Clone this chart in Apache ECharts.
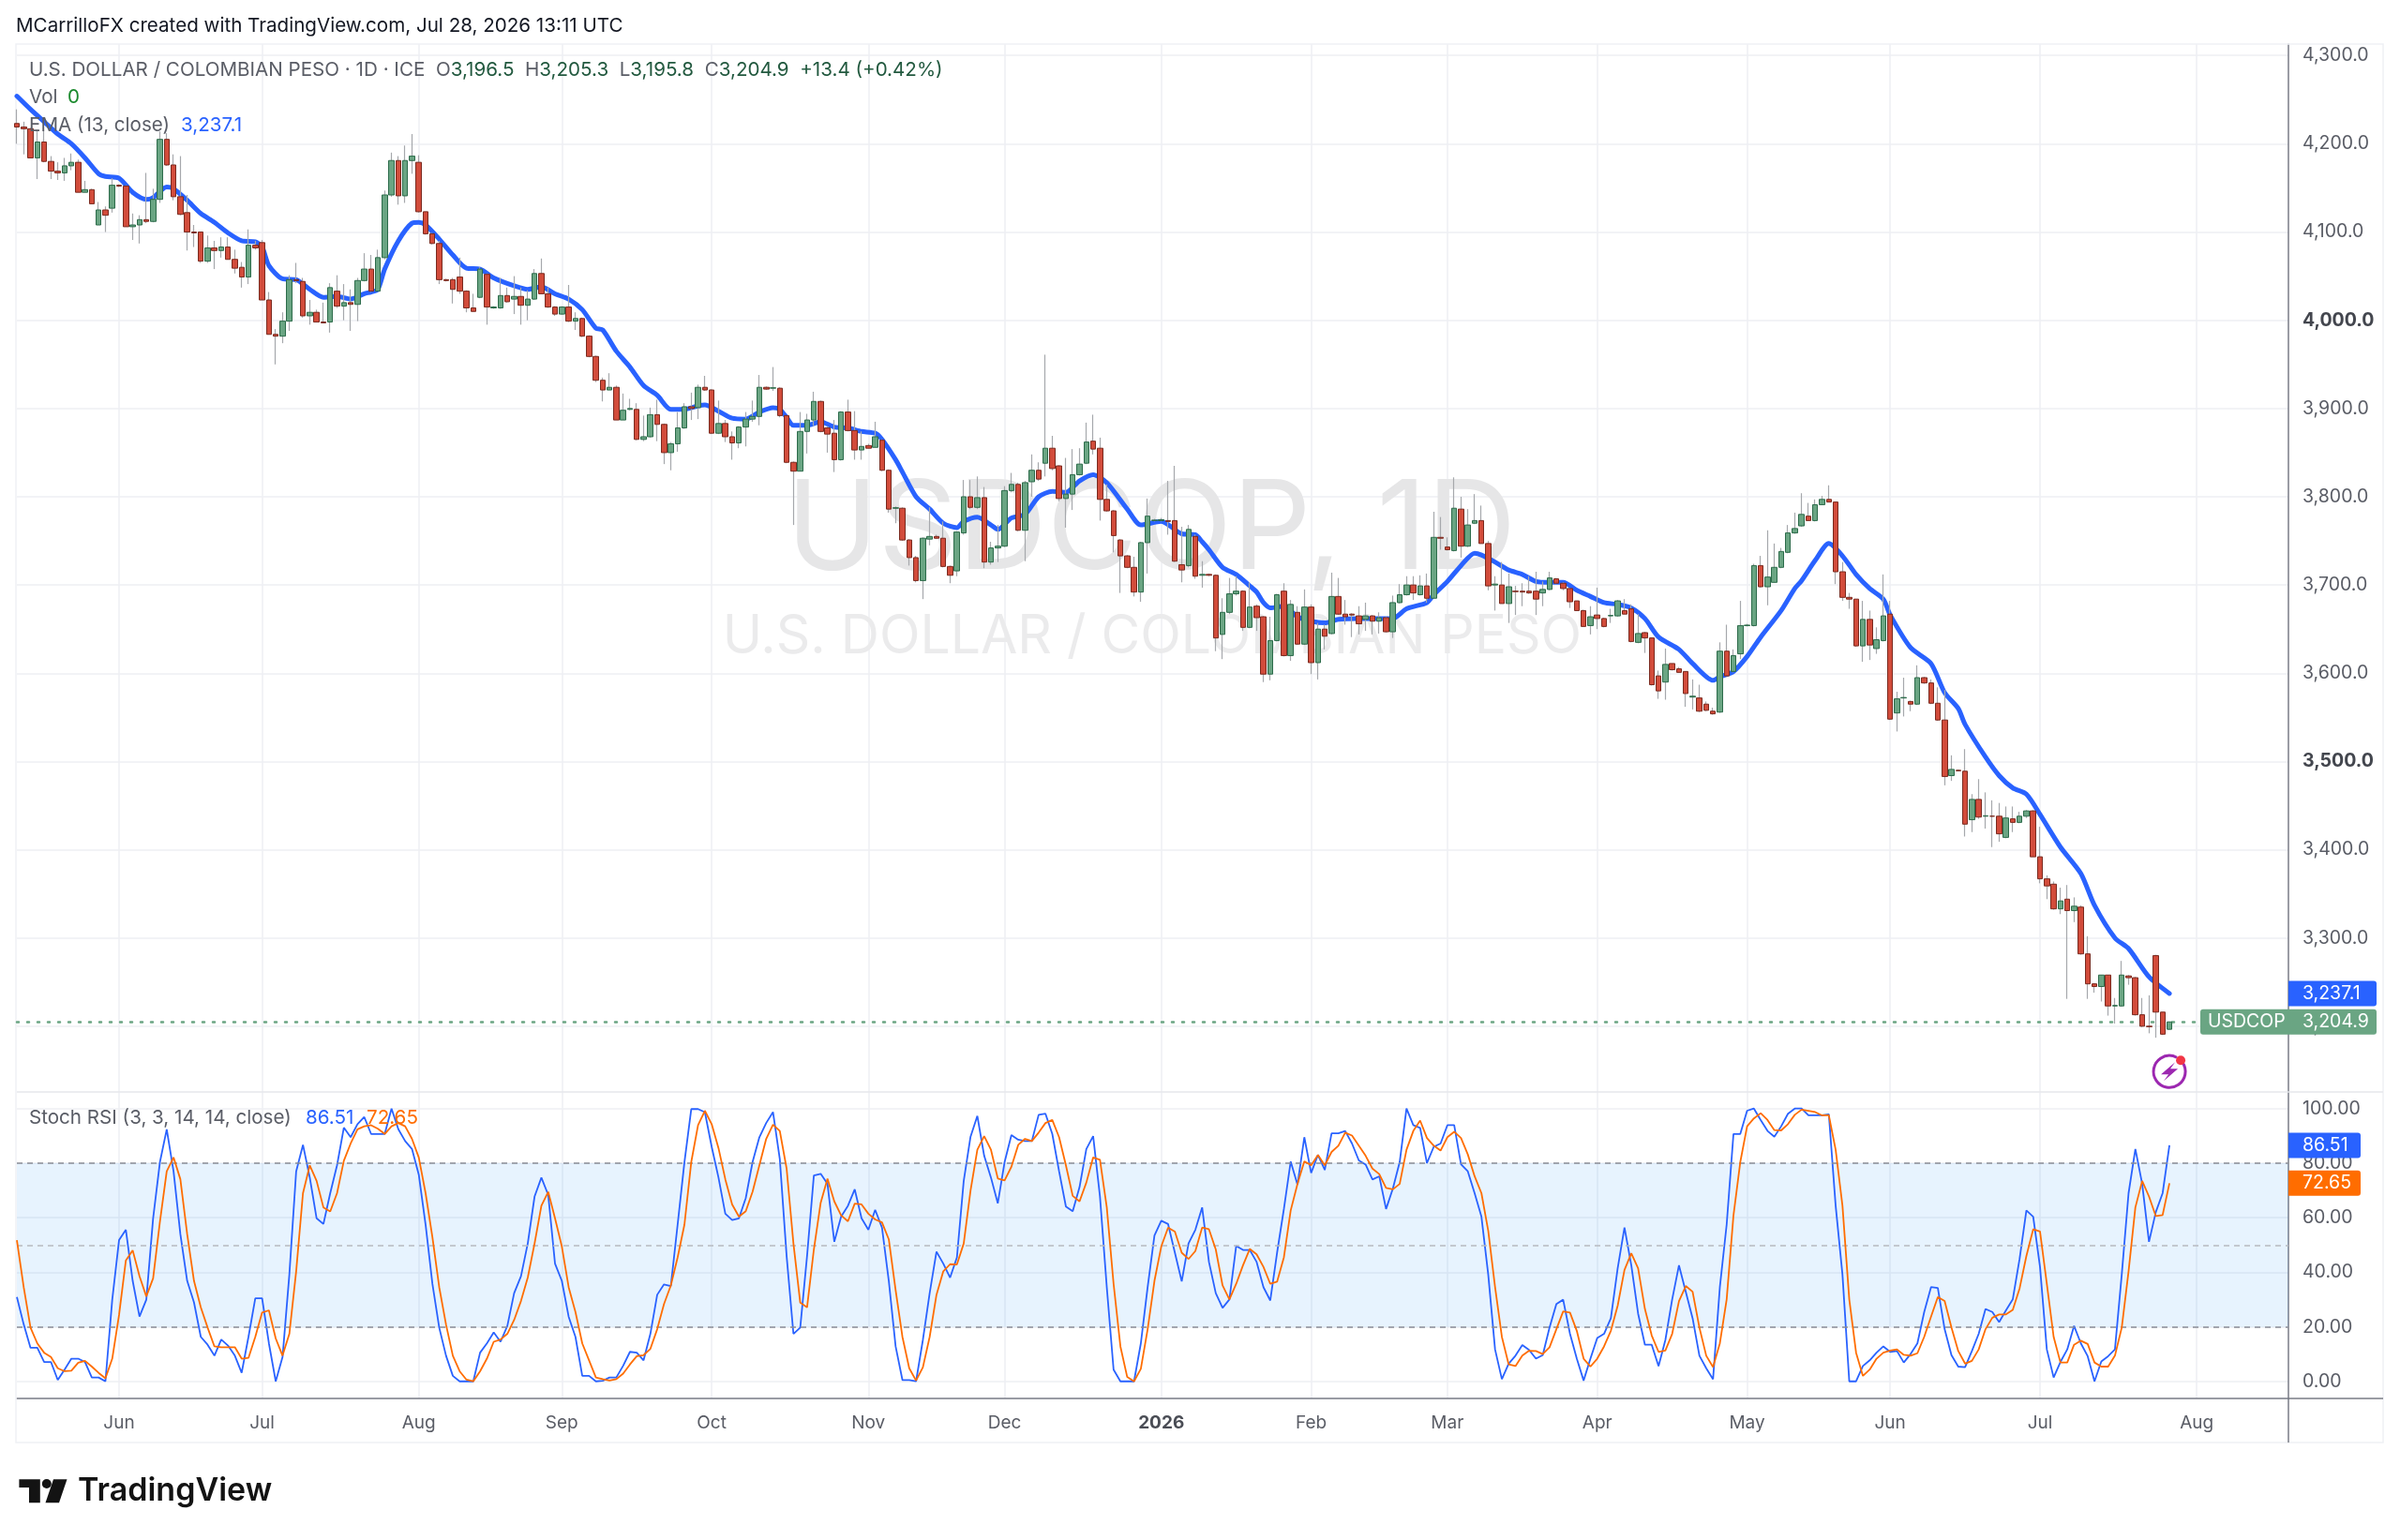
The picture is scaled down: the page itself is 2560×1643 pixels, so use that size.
<!DOCTYPE html>
<html>
<head>
<meta charset="utf-8">
<title>USDCOP 1D</title>
<style>html,body{margin:0;padding:0;background:#fff}#chart{width:2560px;height:1643px}</style>
<script src="https://cdn.jsdelivr.net/npm/echarts@6/dist/echarts.min.js"></script>
</head>
<body>
<div id="chart"></div>
<script>
// Daily session calendar: every weekday from firstSession; bars past the last close stay empty
const firstSession = '2025-05-12';
const barCount = 334;
const visibleBars = 333.47;

// Month starts on the time axis
const monthDates = ['2025-06-02','2025-07-01','2025-08-01','2025-09-01','2025-10-01','2025-11-03','2025-12-01','2026-01-01','2026-02-02','2026-03-02','2026-04-01','2026-05-01','2026-06-01','2026-07-01','2026-08-03'];
const monthLabels = ['Jun','Jul','Aug','Sep','Oct','Nov','Dec','2026','Feb','Mar','Apr','May','Jun','Jul','Aug'];
const boldMonthLabels = ['2026'];
const priceTicks = [3200,3300,3400,3500,3600,3700,3800,3900,4000,4100,4200,4300];
const boldPriceTicks = [4000, 3500];
const stochTicks = [0,20,40,60,80,100];

// USD/COP daily candles
const opens = [
4223,4219,4217,4184,4202,4180,4169,4167,4175,4179,
4145,4148,4108,4125,4127,4153,4152,4106,4108,4114,
4112,4137,4205,4176,4140,4122,4100,4100,4067,4082,
4079,4083,4069,4060,4049,4085,4088,4023,3984,3982,
3999,4046,4044,4005,4009,3998,3998,4033,4016,4020,
4018,4045,4058,4033,4071,4142,4181,4141,4181,4179,
4123,4098,4087,4046,4046,4049,4033,4014,4026,4052,
4014,4014,4028,4024,4027,4017,4024,4053,4030,4015,
4007,4015,3999,4002,3982,3959,3932,3921,3924,3887,
3899,3899,3865,3868,3893,3882,3850,3860,3878,3902,
3901,3924,3921,3872,3883,3868,3861,3879,3888,3891,
3924,3923,3923,3892,3839,3829,3874,3887,3908,3878,
3872,3842,3896,3875,3853,3858,3856,3864,3830,3787,
3787,3751,3731,3705,3752,3755,3753,3721,3716,3759,
3800,3788,3799,3726,3742,3744,3807,3814,3762,3817,
3830,3838,3855,3835,3798,3803,3825,3838,3863,3855,
3797,3784,3751,3733,3720,3692,3748,3773,3773,3773,
3773,3723,3722,3755,3711,3712,3711,3644,3669,3690,
3693,3652,3676,3664,3599,3637,3693,3620,3669,3633,
3675,3612,3650,3645,3687,3667,3667,3665,3661,3665,
3659,3663,3647,3680,3689,3700,3689,3699,3685,3754,
3743,3739,3786,3744,3770,3773,3747,3700,3700,3679,
3693,3693,3693,3693,3691,3695,3707,3702,3696,3682,
3671,3654,3666,3662,3665,3665,3671,3673,3635,3646,
3640,3597,3590,3611,3605,3602,3573,3572,3565,3557,
3556,3625,3602,3622,3654,3654,3722,3698,3703,3720,
3737,3759,3767,3778,3773,3791,3797,3794,3715,3686,
3684,3631,3661,3628,3637,3667,3555,3572,3568,3565,
3595,3589,3566,3547,3484,3490,3489,3434,3457,3438,
3438,3438,3414,3435,3431,3438,3444,3392,3367,3361,
3333,3344,3331,3335,3282,3248,3245,3258,3223,3223,
3257,3255,3213,3200,3280,3216,3196.5];
const closes = [
4219,4217,4184,4202,4180,4169,4167,4175,4179,4145,
4148,4132,4125,4119,4153,4152,4106,4108,4114,4112,
4137,4205,4176,4140,4120,4100,4099,4067,4082,4079,
4083,4069,4059,4049,4085,4082,4023,3984,3982,3999,
4046,4045,4005,4009,3998,3997,4037,4016,4020,4018,
4045,4058,4033,4071,4142,4181,4141,4181,4186,4123,
4098,4087,4046,4045,4035,4033,4014,4010,4058,4015,
4015,4028,4021,4027,4017,4024,4053,4030,4015,4007,
4015,3999,4002,3982,3959,3932,3921,3924,3887,3898,
3900,3865,3868,3893,3882,3850,3860,3878,3902,3900,
3924,3921,3872,3883,3868,3861,3879,3888,3891,3924,
3922,3923.5,3892,3839,3829,3874,3887,3908,3874,3871,
3842,3896,3875,3853,3857,3855,3868,3830,3786,3787.5,
3751,3731,3705,3753,3755,3753,3721,3711,3760,3800,
3788,3799,3726,3742,3744,3807,3814,3762,3816,3830,
3820,3855,3832,3798,3803,3825,3837,3862,3854,3797,
3784,3756,3733,3720,3692,3748,3778,3773.5,3774,3772,
3727,3717,3763,3710,3712,3711,3640,3669,3690,3693,
3652,3675,3663,3599,3637,3689,3620,3678,3633,3675,
3612,3650,3642,3687,3667,3664,3666,3656,3665,3659,
3663,3647,3680,3689,3700,3691,3699,3685,3754,3753,
3740,3787,3744,3768,3773,3747,3699,3701,3679,3698,
3692.5,3692,3691,3684,3695,3708,3702,3696,3681,3671,
3653,3664,3662,3653,3665.5,3682,3667,3636,3645,3640,
3587,3580,3610,3604,3601,3577,3574,3557,3558,3554,
3625,3597,3620,3654,3654.5,3722,3698,3709,3720,3738,
3759,3764,3780,3773,3791,3797,3794,3715,3686,3684,
3631,3661,3632,3638,3665,3548,3571,3572.5,3565,3595,
3589,3566,3547,3483,3491,3489.5,3429,3457,3437,3438.5,
3438,3418,3436,3431,3438,3444,3392,3367,3359,3333,
3342,3331,3336,3282,3248,3245,3258,3223,3223.5,3258,
3255,3213,3200,3199.5,3216,3191,3204.9];
const lows = [
4200,4188,4184,4160,4179,4160,4159,4158,4170,4145,
4145,4132,4108,4100,4122,4151,4106,4091,4087,4110,
4111,4133,4175,4136,4119,4079,4083,4065,4065,4058,
4071,4069,4053,4037,4041,4080,4023,3984,3950,3974,
3988,4042,4003,3995,3998,3997,3986,4014,4000,3988,
3999,4044,4032,4033,4069,4140,4131,4133,4166,4122,
4097,4086,4041,4044,4019,4030,4009,4010,4025,3995,
4013,4013,4020,4007,3995,4000,4023,4030,4014,4005,
4006,3998,3989,3981,3958,3930,3908,3921,3887,3887,
3898,3864,3863,3867,3863,3837,3830,3851,3877,3887,
3888,3920,3871,3871,3862,3842,3855,3857,3885,3881,
3921,3920,3890,3838,3768,3829,3849,3880,3873,3850,
3828,3841,3874,3842,3842,3855,3856,3829,3782,3770,
3750,3722,3703,3684,3745,3752,3720,3702,3710,3757,
3786,3786,3719,3723,3726,3743,3805,3761,3727,3800,
3818,3823,3830,3795,3765,3785,3824,3837,3848,3773,
3783,3737,3691,3719,3687,3681,3713,3772,3772,3757,
3726,3703,3720,3707,3697,3710,3625,3616,3667,3688,
3648,3651,3648,3590,3592,3636,3619,3614,3632,3632,
3599,3593,3627,3644,3666,3655,3641,3644,3648,3644,
3645,3646,3640,3679,3688,3683,3688,3680,3685,3740,
3739,3738,3731,3743,3769,3747,3694,3671,3679,3657,
3666,3676,3690,3666,3676,3694,3701,3694,3674,3671,
3653,3644,3650,3652,3657,3664,3667,3635,3634,3623,
3586,3571,3570,3603,3601,3562,3559,3556,3557,3553,
3555,3597,3601,3616,3653,3653,3697,3677,3703,3719,
3736,3758,3766,3773,3772,3791,3794,3701,3682,3673,
3630,3613,3615,3622,3636,3547,3534,3551,3557,3564,
3588,3565,3546,3473,3478,3489,3415,3420,3435,3424,
3403,3409,3413,3420,3430,3436,3392,3362,3344,3332,
3327,3231,3318,3281,3231,3238,3228,3212,3203,3222,
3247,3212,3199,3192,3187,3190,3195.8];
const highs = [
4239,4225,4218,4216,4216,4186,4179,4184,4189,4182,
4158,4149,4134,4129,4161,4154,4153,4121,4119,4167,
4149,4214,4212,4188,4186,4142,4108,4100,4096,4090,
4094,4094,4080,4066,4103,4090,4091,4032,3990,4009,
4051,4065,4048,4023,4012,4020,4042,4051,4041,4035,
4048,4076,4074,4080,4147,4190,4186,4198,4211,4187,
4123,4099,4090,4047,4048,4071,4034,4030,4060,4053,
4016,4048,4037,4050,4037,4034,4058,4070,4037,4016,
4016,4040,4009,4003,3983,3960,3935,3940,3926,3917,
3911,3906,3892,3901,3910,3883,3862,3896,3906,3918,
3927,3937,3922,3909,3887,3874,3880,3896,3909,3938,
3925,3947,3924,3892,3840,3896,3894,3919,3909,3880,
3887,3897,3910,3897,3874,3860,3885,3865,3831,3789,
3788,3752,3733,3754,3788,3757,3772,3722,3761,3819,
3819,3823,3811,3749,3768,3812,3827,3816,3818,3848,
3839,3961,3869,3836,3844,3854,3855,3884,3893,3867,
3814,3785,3752,3734,3732,3749,3798,3775,3776,3818,
3835,3766,3768,3757,3727,3713,3712,3685,3708,3710,
3694,3703,3678,3665,3664,3690,3702,3683,3676,3695,
3678,3657,3655,3714,3708,3683,3668,3676,3680,3666,
3669,3664,3688,3701,3710,3710,3711,3713,3783,3777,
3754,3822,3800,3786,3803,3790,3750,3710,3726,3713,
3699,3702,3710,3715,3704,3715,3708,3703,3696,3682,
3672,3676,3697,3663,3673,3683,3684,3678,3667,3647,
3640,3603,3628,3611,3607,3602,3593,3587,3568,3561,
3635,3655,3627,3682,3656,3724,3733,3762,3747,3742,
3768,3782,3804,3793,3797,3801,3813,3794,3726,3691,
3684,3682,3671,3652,3712,3682,3579,3595,3569,3609,
3596,3593,3584,3581,3507,3491,3514,3463,3480,3465,
3456,3453,3449,3449,3443,3445,3445,3426,3371,3364,
3357,3360,3346,3337,3302,3249,3258,3258,3232,3274,
3258,3256,3232,3235,3281,3216,3205.3];

// EMA 13 overlay, bar index and level
const emaBars = [0,2,4,6,8,10,12,13,15,17,19,20,22,23,25,27,29,31,33,35,36,37,39,41,43,45,47,49,51,52,53,54,56,58,59,60,62,64,66,68,70,73,75,77,79,81,83,85,
86,88,90,92,94,96,98,100,101,103,105,107,109,111,112,113,114,116,118,120,122,124,126,127,129,130,132,134,136,138,139,141,143,144,146,148,150,152,154,156,158,160,163,165,168,171,173,
174,175,177,179,181,182,183,184,186,188,190,192,194,197,200,202,204,207,208,210,212,214,215,217,219,221,223,225,227,229,231,233,235,237,239,241,244,246,249,250,252,254,256,259,261,
262,264,266,268,270,272,274,275,278,281,283,285,286,289,291,293,295,297,300,303,305,308,310,313,316];
const emaValues = [4254,4239,4225,4211,4200,4184,4166,4163,4161,4145,4137,4139,4151,4149,4136,4121,4111,4099,4090,4089,4083,4062,4047,4046,4035,4026,4027,4024,4030,4032,4035,4058,4090,4110,4111,4108,4092,4074,4059,4058,4048,4039,4035,4038,4030,4024,4012,3991,
3989,3965,3947,3926,3915,3899,3899,3903,3904,3897,3889,3888,3896,3901,3899,3890,3881,3881,3885,3879,3878,3874,3872,3865,3842,3828,3800,3786,3770,3765,3772,3777,3768,3763,3776,3780,3800,3806,3805,3818,3825,3816,3786,3768,3772,3758,3757,
3749,3740,3720,3712,3699,3692,3680,3674,3676,3664,3659,3657,3661,3662,3662,3662,3673,3680,3689,3704,3722,3736,3734,3726,3717,3712,3704,3703,3703,3694,3687,3680,3678,3674,3662,3641,3627,3611,3592,3596,3602,3619,3641,3671,3696,
3705,3728,3747,3733,3712,3696,3684,3666,3629,3611,3578,3560,3542,3505,3484,3470,3463,3440,3403,3373,3337,3300,3288,3256,3237.1];

// Stoch RSI %K per bar
const stochK = [
31,21,12.4,12.4,7.2,7.2,.6,4.4,8.4,8.4,
7.2,1.5,1.5,.1,30,51.8,55.6,36.9,23.8,30,
59.8,80.4,92.4,77,54,36.9,29,16.4,13.5,9.5,
15.4,13.2,9.5,3.2,16.4,30.5,30.5,14,.1,9,
39.2,77,86.7,74.7,59.8,57.7,69,79.2,93,89.5,
94.3,96.9,90.7,90.7,90.7,100,92.4,88.1,85.2,75.8,
57.5,35.8,19.8,9.5,2.1,.1,.1,.1,10.6,14,
18,14.6,20.4,32.4,38.6,50.6,67.8,74.7,68.4,43.2,
36.9,23.8,16.4,2.1,2.1,.1,.3,1.5,1.5,5.8,
10.9,10.6,7.8,17.5,31.8,35.6,35,57.5,80.4,99.8,
99.8,98.7,86,74.7,61.5,59.2,59.8,67.2,80.4,89.5,
94.7,98.7,81.5,46,17.5,19.8,46,75.5,76.1,72.4,
51.2,60.4,64.4,70.4,59.8,55.6,62.9,56.4,36.9,12.9,
.6,.6,.1,15.2,32.4,47.6,43.2,38.1,45.5,73.5,
89.7,97.3,82.7,74.7,65.3,80.4,90.3,88.6,88.1,88.1,
97.7,98.1,90.7,77,64.1,62.4,71.2,85.2,89.9,67.8,
34.6,4.4,.1,.1,.1,14,34.6,53.5,58.9,57.7,
47.2,36.7,50.6,55.6,63.8,43.8,32.4,27,30.1,49.7,
48.2,48.2,43.8,34.6,29.7,47.2,63.2,80.6,72.1,89.5,
76.4,83,77.5,90.9,90.9,91.8,87.2,81,79.5,74,
75.2,63.2,70.7,80.4,100,93.9,92.9,80,86,87.2,
93.9,93.9,79.6,77,69,60.4,39.2,11.8,.9,6.6,
9.5,13.4,11.6,8.4,9.7,19.8,28.4,30,17.5,8.4,
.4,8.4,16,17.5,23.2,41.5,56.4,42.6,24.9,13.5,
13.5,5.7,15.2,30.1,42.6,32.9,23.2,9.5,4.9,.9,
34.6,57.5,90.7,90.7,99.2,100,95.8,91.8,89.7,93.5,
98.1,100,100,97.5,97.5,97.5,97.9,64.4,39.2,.1,
.1,5.7,7.8,10.6,12.9,10.9,11.2,7,10.1,14,
25.5,34.6,34.3,19.2,9.7,5.5,5.3,11.2,17.5,26.6,
25.5,21.8,26.1,30.1,44.9,62.7,60.4,42,11.8,1.5,
7.2,11.8,20.4,14,9.3,.1,7.4,9.3,11.8,39.2,
69,85.2,72.4,51.2,62.1,69,86.51];
// Stoch RSI %D per bar
const stochD = [
51.8,34.6,19.8,14,10.6,9,4.9,3.8,4,6.9,
7.6,5.5,3.2,1.2,8.4,24.4,44.4,48.1,38.6,31.2,
37.8,58.6,77,82.1,74.1,54,36.9,27.2,19.8,12.9,
12.6,12.6,12.6,8.4,8.7,16.4,25.3,26.1,15.8,9.5,
17.5,40.4,69,79.2,73.5,63.8,62.3,69,80.9,87.2,
92.4,93.5,93.9,92.6,90.7,93.5,94.7,93.5,88.9,82.1,
69,52.9,34.6,20.9,9.5,3.8,.7,.1,3.8,8.4,
14.6,15.4,17.5,22.6,29.5,38.1,50.6,64.4,69.5,59.8,
49.5,34.6,25.5,14,7.8,1.5,.9,.4,.9,2.9,
6.3,9.3,9.7,12,19.2,28.4,35.2,45.5,57.5,80.4,
93.9,99.2,94.3,85.5,74.1,64.9,60.4,62.4,69.5,79.2,
88.9,94.1,91.8,78,50.6,28.9,27.2,48.4,65.5,74.3,
66,60.9,58.7,65.2,64.9,61.5,59.4,58.3,52.1,33.5,
16.4,4.9,.4,5.2,16.4,31.8,40.4,43,42.9,50.6,
70,84.9,89.9,84.9,74.4,73.7,78.7,86.7,88.9,88.1,
91.2,94.7,95.8,89.5,79.2,68,66,72.9,82.1,81.2,
63.8,35.8,12.9,1.7,.1,4.7,19.2,36.9,49.5,56.4,
54.9,47.2,44.9,47.8,56.4,55.8,48.4,35.2,30.1,35.8,
42.6,48.6,46.6,42,35.8,36.6,45.5,62.7,72.4,80.7,
79.2,83,79.2,84.1,86.4,91.2,90.1,86.4,82.7,78,
76,70.9,70.4,72.4,84.9,91.8,95.6,89.2,86.4,84.6,
89.5,91.5,89.2,83.2,75.2,69,55.2,34.6,16.4,6.3,
5.7,9.5,11.3,11.2,10.1,12.6,19.2,25.7,25.3,18.6,
8.4,5.5,8.4,12.9,18.6,27.8,40.9,47,41.5,26.6,
16.9,10.9,11.4,17.5,29.5,35,32.9,19.8,9.5,5.3,
14,30.1,60.9,80.4,93.5,96.4,98.3,95.8,92.1,92,
94.3,97.7,99.6,99.2,98.7,97.5,97.5,84.9,64.4,30.1,
10.6,2.1,4.4,8.4,10.6,11.4,11.8,9.8,9.5,10.4,
16.4,23.8,31,29.5,19.8,11.2,6.6,7.6,11.8,19.2,
23.4,24.6,24.6,26.3,34.1,46,55.8,55,35.8,16.4,
7,7,13.5,15,13.8,7,5.5,5.5,9.5,19.8,
40.4,63.8,73.5,67.8,60.6,61,72.65];

// Last values shown on the scale badges and in the header
const lastEma = 3237.1;
const lastClose = 3204.9;
const lastK = 86.51;
const lastD = 72.65;

const GREEN = '#6aa583', GREEN_DARK = '#2c6b4a', RED = '#d24c3b', RED_DARK = '#7a2a1f';
const BLUE = '#2962ff', ORANGE = '#ff6d00', WICK = '#a6a8ac';
const GRID = '#eeeff3', AXIS = '#787b86', LABEL = '#5a5d66';
const FONT = 'Inter, "Open Sans", sans-serif';

// Weekday calendar: bar index to session date
const sessions = [];
for (let d = new Date(firstSession + 'T00:00:00Z'); sessions.length < barCount; d.setUTCDate(d.getUTCDate() + 1)) {
  const wd = d.getUTCDay();
  if (wd !== 0 && wd !== 6) sessions.push(d.toISOString().slice(0, 10));
}
const monthBars = monthDates.map(m => sessions.indexOf(m));

const candleWicks = opens.map((o, i) => [i, o, closes[i], lows[i], highs[i]]);
const candleBodies = opens.map((o, i) => [i, o, closes[i], Math.min(o, closes[i]), Math.max(o, closes[i])]);
const emaLine = emaBars.map((b, i) => [b, emaValues[i]]);
const kLine = stochK.map((v, i) => [i, v]);
const dLine = stochD.map((v, i) => [i, v]);

const plotLeft = 18, plotRight = 2441, paneTop = 47, paneSplit = 1165, paneBottom = 1492, frameRight = 2542, frameBottom = 1539;

const chart = echarts.init(document.getElementById('chart'), null, {renderer: 'canvas'});

const xAxisBase = {
  type: 'value', min: 0, max: visibleBars,
  axisTick: {show: false, customValues: monthBars},
  splitLine: {show: true, lineStyle: {color: GRID, width: 1.5}}
};

chart.setOption({
  animation: false,
  backgroundColor: '#ffffff',
  textStyle: {fontFamily: FONT},
  grid: [
    {left: plotLeft, width: plotRight - plotLeft, top: paneTop, height: paneSplit - paneTop},
    {left: plotLeft, width: plotRight - plotLeft, top: paneSplit, height: paneBottom - paneSplit}
  ],
  xAxis: [
    Object.assign({}, xAxisBase, {gridIndex: 0, axisLine: {show: false, onZero: false}, axisLabel: {show: false, customValues: monthBars}}),
    Object.assign({}, xAxisBase, {
      gridIndex: 1,
      axisLine: {show: true, onZero: false, lineStyle: {color: AXIS, width: 1.5}},
      axisLabel: {
        show: true, customValues: monthBars, margin: 17, fontSize: 19, color: LABEL, fontFamily: FONT,
        formatter: (v) => {
          const k = monthBars.indexOf(v);
          if (k < 0) return '';
          const t = monthLabels[k];
          return boldMonthLabels.includes(t) ? '{b|' + t + '}' : t;
        },
        rich: {b: {fontWeight: 'bold', fontSize: 19, color: '#4a4d55', fontFamily: FONT}}
      }
    })
  ],
  yAxis: [
    {
      gridIndex: 0, position: 'right', type: 'value', min: 3125.5, max: 4313,
      axisLine: {show: true, onZero: false, lineStyle: {color: AXIS, width: 1.5}},
      axisTick: {show: false, customValues: priceTicks},
      splitLine: {show: true, lineStyle: {color: GRID, width: 1.5}},
      axisLabel: {
        customValues: priceTicks,
        margin: 15, fontSize: 19.5, color: LABEL, fontFamily: FONT,
        formatter: (v) => {
          const t = v.toLocaleString('en-US', {minimumFractionDigits: 1, maximumFractionDigits: 1});
          return boldPriceTicks.includes(v) ? '{b|' + t + '}' : t;
        },
        rich: {b: {fontWeight: 'bold', fontSize: 19.5, color: '#43464e', fontFamily: FONT}}
      }
    },
    {
      gridIndex: 1, position: 'right', type: 'value', min: -6.17, max: 106.07,
      axisLine: {show: true, onZero: false, lineStyle: {color: AXIS, width: 1.5}},
      axisTick: {show: false, customValues: stochTicks},
      splitLine: {show: true, lineStyle: {color: GRID, width: 1.5}},
      axisLabel: {
        customValues: stochTicks,
        margin: 15, fontSize: 19.5, color: LABEL, fontFamily: FONT,
        formatter: (v) => v.toFixed(2)
      }
    }
  ],
  series: [
    {
      name: 'EMA 13', type: 'line', xAxisIndex: 0, yAxisIndex: 0, z: 3, data: emaLine,
      showSymbol: false, symbol: 'none', smooth: 0.25, lineStyle: {color: BLUE, width: 5, join: 'round', cap: 'round'}
    },
    {
      name: 'USDCOP wicks', type: 'candlestick', xAxisIndex: 0, yAxisIndex: 0, z: 4, data: candleWicks, barWidth: 1,
      itemStyle: {color: WICK, color0: WICK, borderColor: WICK, borderColor0: WICK, borderWidth: 1.2},
      markLine: {
        silent: true, symbol: 'none', animation: false, label: {show: false},
        data: [{yAxis: lastClose, lineStyle: {color: GREEN, type: [2, 9], width: 2.5, cap: 'round', opacity: 1}}]
      }
    },
    {
      name: 'USDCOP', type: 'candlestick', xAxisIndex: 0, yAxisIndex: 0, z: 5, data: candleBodies, barWidth: 6,
      itemStyle: {color: GREEN, color0: RED, borderColor: GREEN_DARK, borderColor0: RED_DARK, borderWidth: 1}
    },
    {
      name: '%K', type: 'line', xAxisIndex: 1, yAxisIndex: 1, z: 4, data: kLine, showSymbol: false, symbol: 'none',
      lineStyle: {color: BLUE, width: 1.8},
      markArea: {
        silent: true, animation: false, itemStyle: {color: 'rgba(33,150,243,0.11)'},
        data: [[{yAxis: 80}, {yAxis: 20}]]
      },
      markLine: {
        silent: true, symbol: 'none', animation: false, label: {show: false},
        data: [
          {yAxis: 80, lineStyle: {color: '#8a8d96', type: [6, 5], width: 1.5}},
          {yAxis: 50, lineStyle: {color: '#b8bac0', type: [6, 5], width: 1.5}},
          {yAxis: 20, lineStyle: {color: '#8a8d96', type: [6, 5], width: 1.5}}
        ]
      }
    },
    {
      name: '%D', type: 'line', xAxisIndex: 1, yAxisIndex: 1, z: 5, data: dLine, showSymbol: false, symbol: 'none',
      lineStyle: {color: ORANGE, width: 1.8}
    }
  ]
});

// Badges and last-bar marker follow the axis scales
const py = (v) => chart.convertToPixel({yAxisIndex: 0}, v);
const sy = (v) => chart.convertToPixel({yAxisIndex: 1}, v);
const bx = (i) => chart.convertToPixel({xAxisIndex: 0}, i);

const HEAD = 20.6;
const txt = (x, y, text, fill, size, extra) => ({
  type: 'text', x, y, z: 20, silent: true,
  style: Object.assign({text, fill, font: (size || HEAD) + 'px ' + FONT, textVerticalAlign: 'middle', textAlign: 'left'}, extra || {})
});
const richFont = {fontFamily: FONT, fontSize: HEAD};
const badge = (x, yc, w, h, fill, r) => ({
  type: 'rect', z: 18, silent: true, shape: {x, y: yc - h / 2, width: w, height: h, r}, style: {fill}
});
const fmt = (v) => v.toLocaleString('en-US', {minimumFractionDigits: 1, maximumFractionDigits: 1});
const lastX = bx(opens.length - 1);
const iconY = py(lastClose) + 53;

chart.setOption({
  graphic: [
    // Large symbol watermark behind the candles
    {type: 'text', x: 1228, y: 567, z: 0, silent: true, style: {text: 'USDCOP, 1D', fill: '#e6e6e7', font: '132px ' + FONT, textAlign: 'center', textVerticalAlign: 'middle'}},
    {type: 'text', x: 1229, y: 680, z: 0, silent: true, style: {text: 'U.S. DOLLAR / COLOMBIAN PESO', fill: '#ebebec', font: '57px ' + FONT, textAlign: 'center', textVerticalAlign: 'middle'}},

    // Frame and axis extensions
    {type: 'rect', z: 1, silent: true, shape: {x: plotLeft - 1, y: paneTop, width: frameRight - plotLeft + 1, height: frameBottom - paneTop}, style: {fill: 'none', stroke: '#eff1f5', lineWidth: 1.5}},
    {type: 'line', z: 1, silent: true, shape: {x1: plotLeft, y1: paneSplit, x2: frameRight, y2: paneSplit}, style: {stroke: '#e6e7eb', lineWidth: 1.5}},
    {type: 'line', z: 6, silent: true, shape: {x1: plotRight, y1: paneBottom, x2: frameRight, y2: paneBottom}, style: {stroke: AXIS, lineWidth: 1.5}},
    {type: 'line', z: 6, silent: true, shape: {x1: plotRight, y1: paneBottom, x2: plotRight, y2: frameBottom}, style: {stroke: AXIS, lineWidth: 1.5}},

    // Header
    txt(17, 28, 'MCarrilloFX created with TradingView.com, Jul 28, 2026 13:11 UTC', '#131722'),
    {type: 'text', x: 31, y: 75, z: 20, silent: true, style: {
      rich: {l: Object.assign({fill: LABEL}, richFont), v: Object.assign({fill: '#22593f'}, richFont)},
      text: '{l|U.S. DOLLAR / COLOMBIAN PESO · 1D · ICE  O}{v|3,196.5}{l|  H}{v|3,205.3}{l|  L}{v|3,195.8}{l|  C}{v|3,204.9}{v|  +13.4 (+0.42%)}',
      textVerticalAlign: 'middle', textAlign: 'left'
    }},
    txt(31, 104, 'Vol', LABEL),
    txt(72, 104, '0', '#1b8a2e'),
    txt(31, 134, 'EMA (13, close)', LABEL),
    txt(193, 134, fmt(lastEma), BLUE),
    txt(31, 1193, 'Stoch RSI (3, 3, 14, 14, close)', LABEL),
    txt(326, 1193, lastK.toFixed(2), BLUE),
    txt(391, 1193, lastD.toFixed(2), ORANGE),

    // Scale badges
    badge(plotRight, py(lastEma), 94, 27, BLUE, [0, 3, 3, 0]),
    txt(2456, py(lastEma), fmt(lastEma), '#ffffff', 19.5),
    badge(2347, py(lastClose), 188, 27, '#6aa583', 3),
    txt(2355, py(lastClose), 'USDCOP', '#ffffff', 19.5),
    txt(2456, py(lastClose), fmt(lastClose), '#ffffff', 19.5),
    badge(plotRight, sy(lastK), 77, 27, BLUE, [0, 3, 3, 0]),
    txt(2456, sy(lastK), lastK.toFixed(2), '#ffffff', 19.5),
    badge(plotRight, sy(lastD), 77, 27, ORANGE, [0, 3, 3, 0]),
    txt(2456, sy(lastD), lastD.toFixed(2), '#ffffff', 19.5),

    // Event marker under the last bar
    {type: 'arc', z: 18, silent: true, shape: {cx: lastX, cy: iconY, r: 17, startAngle: -0.6, endAngle: 5.2}, style: {fill: 'none', stroke: '#9c27b0', lineWidth: 3}},
    {type: 'polygon', z: 18, silent: true, shape: {points: [[lastX + 6, iconY - 10], [lastX - 9, iconY + 3], [lastX - 1, iconY + 3], [lastX - 6, iconY + 10], [lastX + 9, iconY - 3], [lastX + 1, iconY - 3]]}, style: {fill: '#9c27b0'}},
    {type: 'circle', z: 19, silent: true, shape: {cx: lastX + 12, cy: iconY - 12, r: 5}, style: {fill: '#f23645'}},

    // Footer wordmark
    {type: 'polygon', z: 20, silent: true, shape: {points: [[20.4, 1578.3], [42.8, 1578.3], [42.8, 1603.3], [31, 1603.3], [31, 1587], [20.4, 1587]]}, style: {fill: '#131313'}},
    {type: 'circle', z: 20, silent: true, shape: {cx: 49.8, cy: 1583, r: 5}, style: {fill: '#131313'}},
    {type: 'polygon', z: 20, silent: true, shape: {points: [[57, 1578.3], [71.5, 1578.3], [63, 1603.3], [48.5, 1603.3]]}, style: {fill: '#131313'}},
    txt(83, 1591, 'TradingView', '#131313', 34, {font: '600 34px ' + FONT})
  ]
});
</script>
</body>
</html>
